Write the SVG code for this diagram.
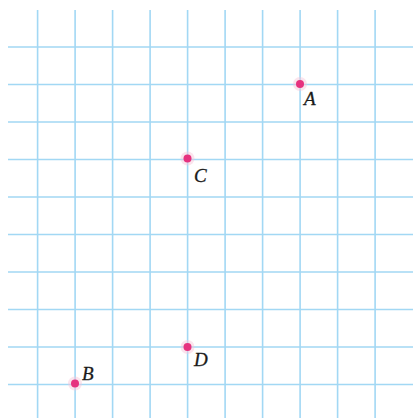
<svg xmlns="http://www.w3.org/2000/svg" width="415" height="418" viewBox="0 0 415 418">
<style>
.g{stroke:#a2d8f4;stroke-width:1.6;fill:none}
.pt{fill:#e6327f}
.halo{fill:#f6c4d8;opacity:0.45}
.lb{font-family:"Liberation Serif","Times New Roman",serif;font-style:italic;font-size:19px;fill:#1a1a1a;stroke:#1a1a1a;stroke-width:0.3}
</style>
<rect width="415" height="418" fill="#fff"/>
<g id="grid">
<path class="g" d="M37.6 10V418M75.1 10V418M112.6 10V418M150.1 10V418M187.6 10V418M225.1 10V418M262.6 10V418M300.1 10V418M337.6 10V418M375.1 10V418"/>
<path class="g" d="M8 47H413M8 84.5H413M8 122H413M8 159.5H413M8 197H413M8 234.5H413M8 272H413M8 309.5H413M8 347H413M8 384.5H413"/>
</g>
<g id="A"><circle class="halo" cx="300" cy="84" r="7"/><circle class="pt" cx="300" cy="84" r="4"/><text class="lb" x="304" y="105">A</text></g>
<g id="C"><circle class="halo" cx="187.5" cy="158.5" r="7"/><circle class="pt" cx="187.5" cy="158.5" r="4"/><text class="lb" x="194" y="182">C</text></g>
<g id="D"><circle class="halo" cx="187.5" cy="347" r="7"/><circle class="pt" cx="187.5" cy="347" r="4"/><text class="lb" x="194" y="366">D</text></g>
<g id="B"><circle class="halo" cx="75" cy="383.5" r="7"/><circle class="pt" cx="75" cy="383.5" r="4"/><text class="lb" x="82" y="380">B</text></g>
</svg>
